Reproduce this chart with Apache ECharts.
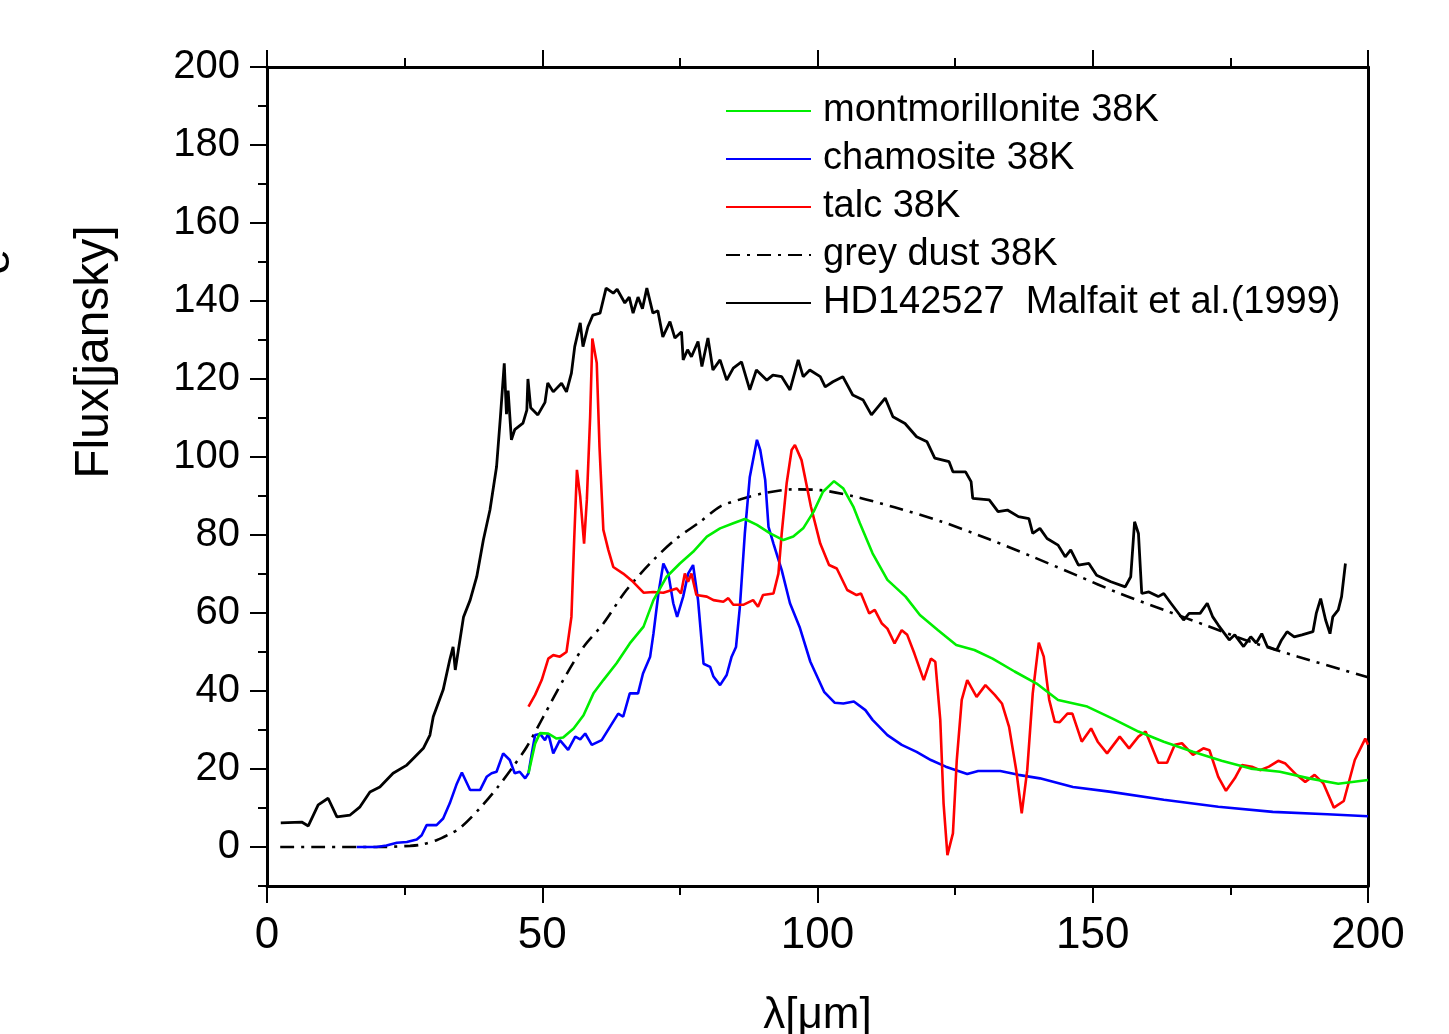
<!DOCTYPE html>
<html>
<head>
<meta charset="utf-8">
<script src="https://cdn.jsdelivr.net/npm/echarts@6/dist/echarts.min.js"></script>
<style>
html,body{margin:0;padding:0;background:#fff;}
#chart{width:1449px;height:1034px;}
</style>
</head>
<body>
<div id="chart"></div>
<script>
// [lambda (um), flux (Jy)]
var hd142527 = [[2.5,6.2],[6.3,6.4],[7.5,5.4],[9.3,10.8],[11.1,12.5],[12.7,7.7],[15.1,8.2],[16.9,10.3],[18.7,14.1],[20.5,15.4],[22.9,18.9],[25.4,21],[27.2,23.6],[28.4,25.3],[29.6,28.7],[30.2,33.4],[32,40.3],[33.2,48],[33.8,51.3],[34.2,45.4],[35.7,59],[36.9,63.3],[38.1,69.3],[39.3,78.7],[40.5,86.4],[41.7,97.5],[42.4,110.3],[43.1,124],[43.5,111],[43.8,117],[44.4,104.4],[45,107],[46.5,108.7],[47.2,112],[47.4,120],[47.9,112.6],[49.2,110.8],[50.5,114],[51,119],[52,116.7],[53.5,118.9],[54.4,116.7],[55.3,121.5],[55.9,128.3],[56.9,134.4],[57.4,128.3],[58.3,133.4],[59.2,136.4],[60.5,136.9],[61.6,143.3],[62.9,142],[63.6,143],[65,139.5],[65.8,141],[66.5,136.9],[67.4,141],[68.2,138],[69,143.3],[70.1,136.9],[71,137.5],[71.9,130.8],[73.2,134.7],[74.1,130.5],[75.3,132.1],[75.6,124.9],[76.4,127.5],[77.1,125.7],[78.3,129.6],[79,123.2],[80.1,130.5],[81,122.3],[82.3,124.9],[83.5,119.7],[84.7,122.8],[86.2,124.4],[87.7,117.2],[88.9,122.3],[90.8,119.7],[91.9,121],[93.5,120.6],[95,117.2],[96.5,124.9],[97.4,120.6],[98.6,122.3],[100.5,120.6],[101.4,118],[102.8,119.3],[104.6,120.6],[106.4,115.9],[108.3,114.6],[109.8,110.8],[112.3,115.1],[113.7,110.3],[115.9,108.6],[118,105.2],[119.9,103.9],[121.3,99.7],[123.9,98.8],[124.6,96.2],[126.9,96.2],[127.9,93.7],[128.2,89.4],[131.2,89],[132.8,86],[134.5,86.4],[136.5,84.7],[138.4,84.2],[139.1,80.4],[140.4,81.7],[141.7,79.1],[143.7,77.4],[145,74.4],[146,76.2],[147.4,72.3],[149.3,72.7],[150.7,69.7],[153.3,68],[155.9,66.7],[156.9,69.3],[157.6,83.4],[158.3,80.4],[158.9,65],[160.2,65.4],[161.9,64.2],[162.9,65],[164.2,62.5],[166.5,58.2],[167.5,59.9],[169.5,59.9],[170.8,62.5],[171.8,59],[172.8,56.9],[174.8,53.1],[175.8,54.4],[177.4,51.4],[178.7,53.9],[179.7,52.3],[180.7,54.7],[181.7,51.4],[183.4,50.5],[184.3,53.1],[185.3,55.2],[186.6,53.9],[188,54.4],[190,55.2],[190.6,59.9],[191.4,63.7],[192.3,58.2],[193.1,54.7],[193.6,59],[194.6,60.8],[195.2,64.2],[195.9,72.7]];

var greyDust = [[2.4,0],[10,0],[20,0],[26,0.3],[28,0.6],[30.9,1.8],[33,3.2],[35.1,4.9],[38.7,10],[42,15.5],[44.7,20.6],[47.2,25.7],[50.2,33.4],[53.8,42.8],[57.5,51.3],[61.1,57.3],[65.3,65.9],[70.2,73.6],[74.4,79.1],[78.7,83.4],[82.3,87.3],[85.9,89.1],[90.2,90.7],[95.6,91.7],[100.5,91.5],[106.3,90],[114,87.1],[122.6,83.4],[131.2,78.9],[139.1,74.4],[147,69.7],[154.9,65],[162.9,60.8],[170.8,56.7],[178.7,52.6],[187.3,48.8],[195.2,45.5],[200,43.5]];

var chamosite = [[16.3,0],[19.9,0],[21.7,0.4],[23.6,1.1],[25.4,1.3],[27.2,1.9],[28.1,3],[29,5.6],[30.8,5.6],[32,7.3],[33.2,11.2],[34.5,16.3],[35.4,19.1],[36.9,14.6],[38.7,14.6],[39.9,18],[40.8,18.9],[41.7,19.3],[42.9,24],[44.1,22.3],[45,18.9],[45.9,19.3],[46.9,17.6],[47.5,18.9],[48.1,24],[48.7,28.7],[49.6,29],[50.5,27.4],[51.1,29.1],[52,24],[53.2,27.4],[54.7,24.9],[56,28.3],[56.9,27.6],[57.8,29.1],[59,26.2],[60.8,27.4],[62.3,30.8],[63.8,34.2],[64.7,33.4],[65.9,39.4],[67.4,39.4],[68.3,44.5],[69.6,48.8],[70.2,54.7],[71.1,65],[72,72.7],[72.9,70.1],[73.8,62.5],[74.5,59],[75.6,64.2],[76.5,70.1],[77.4,72.3],[78.3,63.3],[79.3,47],[80.5,46.2],[81.1,43.7],[82.3,41.5],[83.5,44.1],[84.4,48.8],[85.2,51.3],[85.9,61.6],[86.8,80.4],[87.7,94.9],[89,104.4],[89.6,101.8],[90.5,94.1],[91.1,82.1],[92,77.8],[93.5,71],[95,62.5],[96.8,56.2],[98.7,47.5],[101.2,39.8],[103.1,37],[104.7,36.8],[106.6,37.3],[108.7,35.1],[110,32.6],[112.7,28.7],[115.3,26.2],[118,24.4],[120.6,22.3],[123.3,20.6],[127.2,18.7],[129.2,19.5],[133.2,19.5],[136.5,18.5],[140.4,17.6],[146.4,15.4],[153,14.2],[162.9,12.1],[172.8,10.3],[182.7,9],[192.6,8.4],[200,7.9]];

var montmorillonite = [[47.5,18.9],[48.7,26.5],[49.6,29.2],[51.1,29.1],[52.6,27.8],[53.8,28.1],[55.7,30.4],[57.5,33.8],[59.3,39.4],[61.1,42.8],[63.5,47.1],[65.9,52.2],[68.4,56.5],[70.2,63.3],[72.6,69.3],[75,72.7],[77.4,75.7],[79.9,79.6],[82.3,81.7],[84.7,83],[86.8,84.1],[89,82.6],[91.4,80.4],[93.8,78.7],[95.6,79.6],[97.4,81.7],[99.3,86],[101,91.1],[103,93.8],[104.7,91.9],[106.5,87.3],[107.7,83],[110,75.3],[112.7,68.5],[116,64.2],[118.6,59.5],[121.9,55.6],[125.2,51.8],[128.5,50.5],[131.8,48.3],[135.8,45],[139.8,41.9],[143.7,37.7],[149,36],[153.6,32.9],[158.3,29.6],[162.9,27],[168.2,24.4],[173.4,22.1],[178.7,20.1],[184,19.3],[189.3,17.6],[194.6,16.2],[200,17.2]];

var talc = [[47.5,36],[48.7,39],[49.9,42.8],[51.1,48.3],[52,49.2],[53.2,48.8],[54.4,50],[55.3,59],[55.8,78.7],[56.3,96.7],[56.9,89.8],[57.6,77.8],[58.1,89],[58.7,110.3],[59.1,130.4],[59.9,124.1],[60.4,102.6],[61.1,81.3],[62,76.2],[62.9,71.8],[64.7,70.1],[66.5,68],[68.4,65.2],[70.2,65.4],[72,65.2],[74.4,66.3],[75.2,65],[75.9,70.1],[76.5,68],[77.1,70.1],[78,64.6],[79.9,64.2],[81.1,63.3],[82.9,62.9],[83.8,63.8],[84.7,62.1],[86.5,62.1],[88.3,63.3],[89.2,61.6],[90.1,64.6],[92,65],[92.9,70.1],[93.5,80.4],[94.4,93.3],[95.3,101.8],[95.9,103.1],[97.1,99.2],[98.8,87.3],[100.5,77.8],[102.1,72.3],[103.5,71.4],[105.4,65.9],[107.1,64.6],[107.9,65],[109.4,59.9],[110.4,60.8],[111.7,57.3],[112.7,56],[114,52.2],[115.3,55.6],[116.3,54.4],[117.6,49.6],[119.3,42.8],[120.6,48.3],[121.4,47.5],[122.3,32.6],[122.9,11.2],[123.6,-2.1],[124.6,3.5],[125.3,22.3],[126.2,37.7],[127.2,42.8],[128.9,38.5],[130.5,41.5],[132.2,39],[133.5,36.8],[134.8,30.8],[136.1,19.7],[137.1,8.6],[138.1,19.7],[139.1,39.4],[140.2,52.4],[141.1,48.8],[142.1,37.7],[143.1,32.1],[144,32],[145.4,34.2],[146.3,34.2],[148,27],[149.7,30.4],[150.9,27],[152.6,24],[154.9,28.3],[156.6,25.3],[158.3,28.3],[159.6,29.6],[161.9,21.6],[163.5,21.6],[164.9,26.2],[166.2,26.6],[168.2,23.6],[170.1,25.3],[171.2,24.8],[172.8,18],[174.2,14.4],[175.8,17.6],[177.1,21],[178.9,20.6],[180.4,19.7],[182,20.6],[183.7,22.1],[185,21.4],[187,18.5],[188.6,16.7],[190.3,18.5],[191.9,16.3],[193.8,10.1],[195.6,11.8],[197.6,22.3],[199.5,27.8],[200,26.2]];

var yMajor = [0,20,40,60,80,100,120,140,160,180,200];
var yMinor = [-10,10,30,50,70,90,110,130,150,170,190];

var chart = echarts.init(document.getElementById('chart'));
var labelFont = "'Liberation Sans', Arial, sans-serif";

var option = {
    animation: false,
    backgroundColor: '#fff',
    grid: {left: 267, right: 81, top: 67, bottom: 148, containLabel: false, outerBoundsMode: 'none'},
    legend: {
        orient: 'vertical',
        left: 725,
        top: 87,
        padding: 0,
        itemWidth: 85,
        itemHeight: 14,
        itemGap: 0,
        itemStyle: {opacity: 0},
        textStyle: {fontSize: 38, lineHeight: 48, color: '#000', fontFamily: labelFont, padding: [0, 0, 0, 7]},
        data: ['montmorillonite 38K', 'chamosite 38K', 'talc 38K', 'grey dust 38K', 'HD142527  Malfait et al.(1999)']
    },
    xAxis: [
        {
            type: 'value', position: 'bottom', min: 0, max: 200, interval: 50,
            splitLine: {show: false},
            axisLine: {show: true, onZero: false, lineStyle: {color: '#000', width: 3}},
            axisTick: {show: true, inside: false, length: 17, lineStyle: {color: '#000', width: 2}},
            minorTick: {show: true, splitNumber: 2, length: 9, lineStyle: {color: '#000', width: 2}},
            axisLabel: {fontSize: 44, color: '#000', margin: 28, fontFamily: labelFont},
            name: 'λ[μm]', nameLocation: 'middle', nameGap: 108,
            nameTextStyle: {fontSize: 44, color: '#000', fontFamily: labelFont}
        },
        {
            type: 'value', position: 'top', min: 0, max: 200, interval: 50,
            splitLine: {show: false},
            axisLine: {show: true, onZero: false, lineStyle: {color: '#000', width: 3}},
            axisTick: {show: true, inside: false, length: 17, lineStyle: {color: '#000', width: 2}},
            minorTick: {show: true, splitNumber: 2, length: 9, lineStyle: {color: '#000', width: 2}},
            axisLabel: {show: false}
        }
    ],
    yAxis: [
        {
            type: 'value', position: 'left', min: -10, max: 200,
            splitLine: {show: false},
            axisLine: {show: true, onZero: false, lineStyle: {color: '#000', width: 3}},
            axisTick: {show: true, inside: false, length: 17, customValues: yMajor, lineStyle: {color: '#000', width: 2}},
            axisLabel: {fontSize: 40, color: '#000', margin: 27, customValues: yMajor, fontFamily: labelFont}
        },
        {
            type: 'value', position: 'right', min: -10, max: 200,
            splitLine: {show: false},
            axisLine: {show: true, onZero: false, lineStyle: {color: '#000', width: 3}},
            axisTick: {show: false},
            axisLabel: {show: false}
        },
        {
            type: 'value', position: 'left', min: -10, max: 200,
            splitLine: {show: false},
            axisLine: {show: false},
            axisTick: {show: true, inside: false, length: 9, customValues: yMinor, lineStyle: {color: '#000', width: 2}},
            axisLabel: {show: false}
        }
    ],
    series: [
        {name: 'HD142527  Malfait et al.(1999)', type: 'line', data: hd142527, symbol: 'none', color: '#000', lineStyle: {width: 2.8, color: '#000'}},
        {name: 'grey dust 38K', type: 'line', data: greyDust, symbol: 'none', smooth: 0.3, color: '#000', lineStyle: {width: 2.6, color: '#000', type: [14, 7, 3, 7]}},
        {name: 'chamosite 38K', type: 'line', data: chamosite, symbol: 'none', color: '#0000ff', lineStyle: {width: 2.6, color: '#0000ff'}},
        {name: 'talc 38K', type: 'line', data: talc, symbol: 'none', color: '#ff0000', lineStyle: {width: 2.6, color: '#ff0000'}},
        {name: 'montmorillonite 38K', type: 'line', data: montmorillonite, symbol: 'none', color: '#00ee00', lineStyle: {width: 2.6, color: '#00ee00'}}
    ],
    graphic: [
        {type: 'text', x: 95, y: 352, rotation: Math.PI / 2,
         style: {text: 'Flux[jansky]', fontSize: 48, fill: '#000', align: 'center', verticalAlign: 'middle', fontFamily: labelFont}},
        {type: 'text', x: -4, y: 262, rotation: Math.PI / 2,
         style: {text: 'e', fontSize: 46, fill: '#000', align: 'center', verticalAlign: 'middle', fontFamily: labelFont}}
    ]
};
chart.setOption(option);
</script>
</body>
</html>
